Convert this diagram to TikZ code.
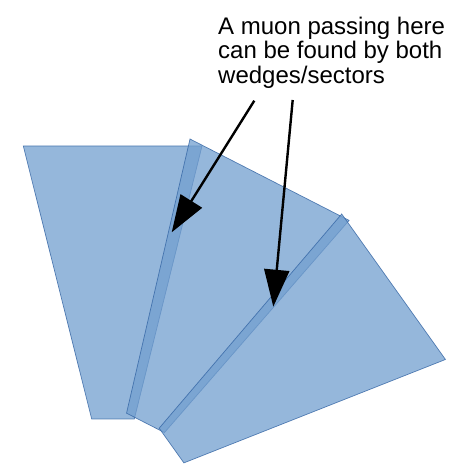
\documentclass[tikz,border=0pt]{standalone}
\usepackage{fontspec}
\setmainfont{Liberation Sans}
\usepackage{tikz}
\usetikzlibrary{
  arrows.meta,
  positioning,
  calc
}
\definecolor{wedgeblue}{HTML}{729FCF}
\definecolor{wedgeedge}{HTML}{3465A4}
\tikzset{
  wedge/.style={
    fill=wedgeblue, fill opacity=0.75,
    draw=wedgeedge, draw opacity=0.8, line width=0.7pt,
    line join=miter
  },
  pointer/.style={-{Triangle[length=37pt,width=25pt]}, line width=2.4pt, color=black},
  note/.style={
    anchor=north west, inner sep=0pt, align=left,
    font=\fontsize{24}{24.5}\selectfont
  }
}

\begin{document}
\begin{tikzpicture}[x=1pt,y=1pt]
  \useasboundingbox (0,0) rectangle (453,464);
  % Wedges/sectors
  \foreach \px/\py/\ang in {23.3/318/0, 190/325/-27.1, 341.7/250/-54.5} {
    \draw[wedge, shift={(\px,\py)}, rotate=\ang]
      (0,0) -- (178.7,0) -- (111,-273) -- (68.4,-273) -- cycle;
  }
  % Text
  \node[note] (muon) at (218,447.5) {A muon passing here\\can be found by both\\wedges/sectors};
  % Arrows
  \coordinate (tailA) at (254.3,363.3);
  \coordinate (tailB) at (292.7,364);
  \coordinate (hitA) at (171.7,231.7);
  \coordinate (hitB) at (273.3,157.3);
  \draw[pointer] (tailA) -- (hitA);
  \draw[pointer] (tailB) -- (hitB);
\end{tikzpicture}
\end{document}
